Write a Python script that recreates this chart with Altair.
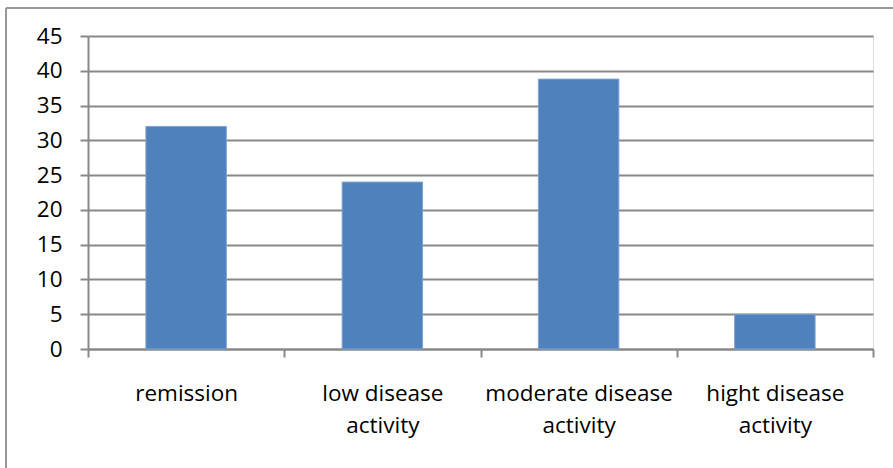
import altair as alt
import pandas as pd

categories = ["remission", "low disease activity", "moderate disease activity", "hight disease activity"]
values = [32, 24, 38.8, 5]
y_ticks = [0, 5, 10, 15, 20, 25, 30, 35, 40, 45]

df = pd.DataFrame({"category": categories, "value": values})

W, H = 785, 313
FONT = "Open Sans"
GRAY = "#888888"

label_expr = ("indexof(datum.label,' ')<0 ? datum.label : "
              "[slice(datum.label,0,lastindexof(datum.label,' ')), "
              "slice(datum.label,lastindexof(datum.label,' ')+1)]")

bars = alt.Chart(df).mark_bar(color="#4F81BD", stroke="#7EA3D1", strokeWidth=1,
                              width=alt.RelativeBandSize(0.41)).encode(
    x=alt.X("category:N", sort=categories,
            scale=alt.Scale(paddingInner=0, paddingOuter=0),
            axis=alt.Axis(title=None, labelAngle=0, labelExpr=label_expr,
                          labelFont=FONT, labelFontSize=22.5, labelColor="#000000",
                          labelLineHeight=32, labelPadding=25, labelLimit=400,
                          tickBand="extent", tickSize=8, tickColor=GRAY, tickWidth=2,
                          domainColor=GRAY, domainWidth=2, grid=False)),
    y=alt.Y("value:Q", scale=alt.Scale(domain=[0, 45], nice=False),
            axis=alt.Axis(title=None, values=y_ticks, labelFont=FONT, labelFontSize=22.5,
                          labelColor="#000000", labelPadding=18,
                          tickSize=8, tickColor=GRAY, tickWidth=2,
                          domainColor=GRAY, domainWidth=2,
                          grid=True, gridColor=GRAY, gridWidth=2)),
)

frame_top = alt.Chart(df).mark_rule(color="#999999", strokeWidth=2).encode(
    x=alt.value(-82), x2=alt.value(893 - 88), y=alt.value(-28)
)
frame_left = alt.Chart(df).mark_rule(color="#999999", strokeWidth=2).encode(
    x=alt.value(-82), y=alt.value(-28), y2=alt.value(468 - 36)
)

chart = alt.layer(bars, frame_top, frame_left).properties(
    width=W, height=H,
    autosize=alt.AutoSizeParams(type="none"),
    padding={"left": 88, "top": 36, "right": 20, "bottom": 119},
).configure_view(stroke=None).configure(background="white")

chart.save("out.html", embed_options={"renderer": "svg", "actions": False})
